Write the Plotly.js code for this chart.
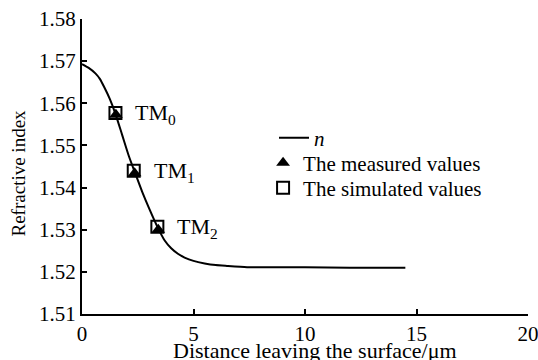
<!DOCTYPE html>
<html>
<head>
<meta charset="utf-8">
<script src="https://cdn.plot.ly/plotly-3.0.1.min.js"></script>
<style>html,body{margin:0;padding:0;background:#fff}#chart{width:538px;height:360px}</style>
</head>
<body>
<div id="chart"></div>
<script>
// Refractive index profile n(x)
const curveX = [0, 0.3, 0.6, 0.8, 1.0, 1.25, 1.5, 1.8, 2.1, 2.4, 2.7, 3.0, 3.4, 3.7, 4.0, 4.3, 4.6, 5.0, 5.5, 6.0, 6.5, 7.4, 8.5, 10, 12, 14.5];
const curveY = [1.5693, 1.5684, 1.5671, 1.5658, 1.5638, 1.5610, 1.5575, 1.5525, 1.5475, 1.5432, 1.5390, 1.5352, 1.5305, 1.5275, 1.5256, 1.5243, 1.5234, 1.5226, 1.5220, 1.5216, 1.5214, 1.5211, 1.5211, 1.5211, 1.5210, 1.5210];
// Measured values (TM0, TM1, TM2)
const measX = [1.52, 2.36, 3.42];
const measY = [1.5573, 1.5434, 1.5300];
// Simulated values
const simX = [1.50, 2.32, 3.38];
const simY = [1.5577, 1.5440, 1.5307];
const modeLabels = ['TM<sub>0</sub>', 'TM<sub>1</sub>', 'TM<sub>2</sub>'];
const xTicks = [0, 5, 10, 15, 20];
const yTicks = [1.51, 1.52, 1.53, 1.54, 1.55, 1.56, 1.57, 1.58];
const xTitle = 'Distance leaving the surface/μm';
const yTitle = 'Refractive index';

const font = 'Liberation Serif, Times New Roman, serif';

const traces = [
  {x: curveX, y: curveY, mode: 'lines', name: '<i>n</i>', legend: 'legend', line: {color: '#000', width: 2, shape: 'spline', smoothing: 0.6}},
  {x: measX, y: measY, mode: 'markers', name: 'The measured values', legend: 'legend2', marker: {symbol: 'triangle-up', size: 12, color: '#000'}},
  {x: simX, y: simY, mode: 'markers', name: 'The simulated values', legend: 'legend3', marker: {symbol: 'square-open', size: 12, color: '#000', line: {width: 2, color: '#000'}}}
];

const annotations = simX.map((x, i) => ({
  x: x, y: simY[i], xref: 'x', yref: 'y', text: modeLabels[i], showarrow: false,
  xanchor: 'left', xshift: 18, yshift: -1, font: {family: font, size: 22, color: '#000'}
}));
annotations.push({
  x: 0.5, y: 0, xref: 'paper', yref: 'paper', text: xTitle, showarrow: false,
  xanchor: 'center', yanchor: 'top', xshift: 10, yshift: -22,
  font: {family: font, size: 22, color: '#000'}
});
annotations.push({
  x: 0, y: 0.5, xref: 'paper', yref: 'paper', text: yTitle, showarrow: false,
  textangle: -90, xanchor: 'center', yanchor: 'middle', xshift: -64, yshift: -7,
  font: {family: font, size: 19, color: '#000'}
});

const legendBase = {xanchor: 'left', yanchor: 'middle', bgcolor: 'rgba(0,0,0,0)', font: {family: font, size: 21, color: '#000'}, itemwidth: 30};

const layout = {
  width: 538, height: 360,
  margin: {l: 82, r: 10, t: 19, b: 46},
  paper_bgcolor: '#fff', plot_bgcolor: '#fff',
  font: {family: font, size: 21, color: '#000'},
  showlegend: true,
  legend: Object.assign({}, legendBase, {x: 0.4305, y: 0.5966}),
  legend2: Object.assign({}, legendBase, {x: 0.406, y: 0.5119}),
  legend3: Object.assign({}, legendBase, {x: 0.406, y: 0.4271}),
  xaxis: {
    range: [0, 20], tickvals: xTicks, ticktext: xTicks.map(String),
    showline: true, linecolor: '#000', linewidth: 2, mirror: false,
    ticks: 'inside', ticklen: 5, tickwidth: 2, tickcolor: '#000',
    showgrid: false, zeroline: false, ticklabeloverflow: 'allow',
    tickfont: {family: font, size: 21, color: '#000'},
    automargin: false
  },
  yaxis: {
    range: [1.51, 1.58], tickvals: yTicks, ticktext: yTicks.map(v => v.toFixed(2)),
    showline: true, linecolor: '#000', linewidth: 2, mirror: false,
    ticks: 'inside', ticklen: 5, tickwidth: 2, tickcolor: '#000',
    showgrid: false, zeroline: false, ticklabeloverflow: 'allow',
    tickfont: {family: font, size: 21, color: '#000'},
    automargin: false
  },
  annotations: annotations
};

Plotly.newPlot('chart', traces, layout, {displayModeBar: false, staticPlot: true});
</script>
</body>
</html>
